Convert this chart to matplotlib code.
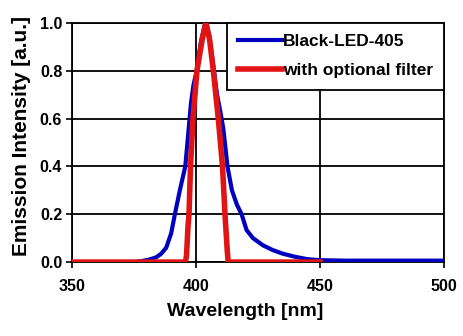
import matplotlib
matplotlib.use("Agg")
import matplotlib.pyplot as plt

blue_x = [375, 378, 381, 384, 386, 388, 390, 391.5, 393.5, 395.7, 397, 398, 399, 400.3, 402, 403.5, 404.2,
          405.3, 407, 408.5, 409.8, 411, 412.7, 414.5, 416.5, 418.4, 420.4, 423, 427, 431, 435, 440, 445,
          450, 460, 500]
blue_y = [0.0, 0.004, 0.01, 0.02, 0.035, 0.06, 0.12, 0.2, 0.3, 0.4, 0.55, 0.665, 0.74, 0.8, 0.92, 0.99, 1.0,
          0.95, 0.82, 0.7, 0.63, 0.56, 0.4, 0.3, 0.24, 0.2, 0.134, 0.1, 0.07, 0.05, 0.035, 0.022, 0.012,
          0.008, 0.006, 0.006]

red_x = [350, 395.8, 396.2, 396.8, 397.2, 397.8, 398.8, 400.4, 402.5, 404, 405.5, 407, 409, 410.7, 411.7,
         412.6, 413, 450]
red_y = [0.0, 0.0, 0.03, 0.15, 0.2, 0.4, 0.6, 0.8, 0.93, 1.0, 0.93, 0.8, 0.6, 0.4, 0.2, 0.05, 0.0, 0.0]

x_ticks = [350, 400, 450, 500]
y_ticks = [0.0, 0.2, 0.4, 0.6, 0.8, 1.0]

plt.rcParams['font.family'] = ['Liberation Sans', 'DejaVu Sans']

fig = plt.figure(figsize=(4.64, 3.36), dpi=100)
ax = fig.add_axes([0.155, 0.220, 0.802, 0.712])

ax.plot(blue_x, blue_y, color='#0000c0', lw=3.0, label='Black-LED-405', zorder=3)
ax.plot(red_x, red_y, color='#e01414', lw=4.0, label='with optional filter', zorder=4)

ax.set_xlim(350, 500)
ax.set_ylim(0, 1.0)
ax.set_xticks(x_ticks)
ax.set_xticklabels([str(v) for v in x_ticks])
ax.set_yticks(y_ticks)
ax.set_yticklabels([f"{v:.1f}" for v in y_ticks])
ax.grid(True, color='black', lw=1.3)
ax.set_axisbelow(True)
for s in ax.spines.values():
    s.set_color('black')
    s.set_linewidth(1.3)
ax.tick_params(direction='out', length=4, width=1.2, labelsize=11.5)
ax.tick_params(axis='x', pad=8)
ax.tick_params(axis='y', pad=3)
for lab in ax.get_xticklabels() + ax.get_yticklabels():
    lab.set_fontweight('bold')

ax.set_xlabel('Wavelength [nm]', fontsize=14, fontweight='bold')
ax.set_ylabel('Emission Intensity [a.u.]', fontsize=15, fontweight='bold')
ax.xaxis.set_label_coords(0.465, -0.172)
ax.yaxis.set_label_coords(-0.11, 0.525)

leg = ax.legend(loc='upper right', bbox_to_anchor=(1.0, 1.0), fancybox=False, framealpha=1,
                edgecolor='black', borderaxespad=0, prop={'weight': 'bold', 'size': 12.5},
                handlelength=2.5, handletextpad=0.05, borderpad=0.65, labelspacing=0.8)
leg.get_frame().set_linewidth(1.3)
leg.set_zorder(10)

fig.savefig('out.png', dpi=100)
